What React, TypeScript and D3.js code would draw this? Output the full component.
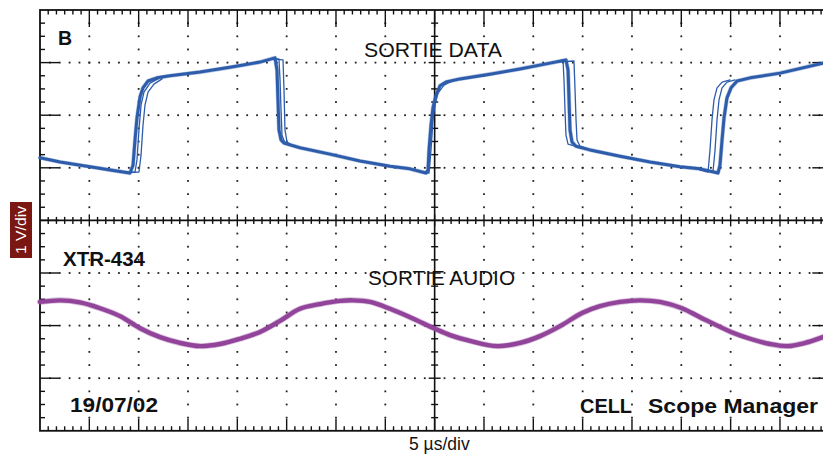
import React from 'react';
import * as d3 from 'd3';

// Time base: 5 µs/div over 16 divisions; vertical: 1 V/div over 8 divisions
const timeDomain: [number, number] = [0, 80];
const voltDomain: [number, number] = [-4, 4];
const timePerDiv = 5;
const voltPerDiv = 1;

// SORTIE DATA – main (thick) trace, [µs, V]
const dataTrace: [number, number][] = [
  [0, 1.19], [2.03, 1.11], [5.07, 1.02], [7.1, 0.96], [9.12, 0.9],
  [9.43, 1.05], [9.63, 1.53], [9.83, 1.95], [10.14, 2.35], [10.44, 2.52], [10.95, 2.65],
  [11.86, 2.71], [13.18, 2.75], [16.22, 2.82], [19.56, 2.92], [22.3, 3.01], [23.82, 3.09],
  [24.02, 2.86], [24.12, 2.29], [24.22, 1.72], [24.43, 1.53], [24.73, 1.47],
  [26.35, 1.38], [29.39, 1.26], [32.43, 1.13], [35.48, 1.03], [37.5, 0.98], [39.12, 0.9],
  [39.33, 0.96], [39.43, 1.34], [39.63, 1.81], [39.83, 2.14], [40.14, 2.38], [40.54, 2.56],
  [41.15, 2.63], [42.57, 2.69], [45.61, 2.78], [48.65, 2.88], [51.69, 2.99], [53.31, 3.05],
  [53.52, 2.86], [53.62, 2.29], [53.72, 1.72], [53.92, 1.49], [54.33, 1.41],
  [55.75, 1.34], [58.79, 1.22], [61.83, 1.11], [64.87, 1.02], [66.9, 0.98], [68.72, 0.9],
  [68.92, 1.05], [69.13, 1.53], [69.33, 1.95], [69.63, 2.33], [70.04, 2.52], [70.65, 2.65],
  [71.97, 2.71], [75.01, 2.8], [79.36, 2.99], [80, 3.0],
];

// Jittered (persistence) traces around the edges
const ghostRise1A: [number, number][] = [[8.92, 0.91], [9.63, 0.92], [9.83, 1.15], [10.03, 1.72], [10.24, 2.19], [10.54, 2.44], [11.15, 2.61], [11.96, 2.69]];
const ghostRise1B: [number, number][] = [[8.92, 0.91], [10.03, 0.92], [10.24, 1.24], [10.44, 1.81], [10.64, 2.19], [10.95, 2.44], [11.55, 2.59], [12.37, 2.69]];
const ghostFall1A: [number, number][] = [[23.31, 3.07], [24.22, 3.07], [24.33, 2.67], [24.43, 2.1], [24.53, 1.62], [24.83, 1.47], [25.54, 1.43]];
const ghostFall1B: [number, number][] = [[23.31, 3.07], [24.63, 3.05], [24.73, 2.48], [24.83, 1.72], [25.04, 1.49], [25.54, 1.43]];
const ghostRise2: [number, number][] = [[38.52, 0.92], [39.43, 0.9], [39.63, 1.34], [39.83, 1.91], [40.04, 2.21], [40.34, 2.42], [40.95, 2.57], [41.76, 2.65]];
const ghostFall2A: [number, number][] = [[52.2, 3.01], [53.01, 3.05], [53.11, 2.67], [53.21, 2.1], [53.31, 1.62], [53.52, 1.45], [54.23, 1.41]];
const ghostFall2B: [number, number][] = [[52.2, 3.01], [54.12, 3.03], [54.23, 2.48], [54.33, 1.91], [54.43, 1.53], [54.73, 1.41], [55.54, 1.36]];
const ghostRise3A: [number, number][] = [[66.9, 0.96], [67.71, 0.92], [67.91, 1.34], [68.11, 1.91], [68.31, 2.29], [68.62, 2.52], [69.13, 2.63], [69.94, 2.67]];
const ghostRise3B: [number, number][] = [[66.9, 0.96], [68.21, 0.92], [68.42, 1.34], [68.62, 1.91], [68.82, 2.29], [69.13, 2.52], [69.63, 2.63], [70.44, 2.67]];
const dataGhosts = [ghostRise1A, ghostRise1B, ghostFall1A, ghostFall1B, ghostRise2, ghostFall2A, ghostFall2B, ghostRise3A, ghostRise3B];

// SORTIE AUDIO trace, [µs, V]
const audioTrace: [number, number][] = [
  [0, -1.55], [2.03, -1.52], [4.05, -1.56], [6.08, -1.67], [8.11, -1.82], [10.14, -2.05],
  [12.16, -2.22], [14.19, -2.33], [16.22, -2.39], [18.24, -2.35], [20.27, -2.25], [22.3, -2.12],
  [24.33, -1.91], [26.35, -1.68], [28.38, -1.59], [30.41, -1.53], [31.72, -1.52], [33.45, -1.55],
  [35.48, -1.68], [37.5, -1.84], [39.93, -2.05], [41.56, -2.18], [43.58, -2.29], [46.32, -2.39],
  [48.65, -2.33], [50.68, -2.2], [52.71, -2.01], [54.94, -1.76], [56.76, -1.63], [58.79, -1.55],
  [60.82, -1.52], [62.84, -1.55], [65.07, -1.67], [66.9, -1.84], [70.04, -2.12], [71.97, -2.25],
  [73.99, -2.35], [75.72, -2.39], [77.54, -2.33], [79.36, -2.22], [80, -2.18],
];

const channelLabel = 'B';
const dataTitle = 'SORTIE DATA';
const audioTitle = 'SORTIE AUDIO';
const probeLabel = 'XTR-434';
const dateLabel = '19/07/02';
const brandWord1 = 'CELL';
const brandWord2 = 'Scope Manager';
const xUnitLabel = '5 µs/div';
const yUnitLabel = '1 V/div';

const FONT = '"Liberation Sans", Arial, sans-serif';
const BLUE = '#2d5cab';
const PURPLE = '#91449a';
const INK = '#111';

export default function App() {
  const W = 823;
  const H = 454;
  const x = d3.scaleLinear().domain(timeDomain).range([40, 829.3]);
  const y = d3.scaleLinear().domain(voltDomain).range([430.8, 10]);
  const [x0, x1] = x.range();
  const [yb, yt] = y.range();
  const xc = x(40);
  const yc = y(0);

  const line = d3.line<[number, number]>().x(d => x(d[0])).y(d => y(d[1]));
  const smooth = d3.line<[number, number]>().x(d => x(d[0])).y(d => y(d[1])).curve(d3.curveCatmullRom.alpha(0.5));

  const eps = 1e-6;
  const xMinor = d3.range(timeDomain[0], timeDomain[1] + eps, timePerDiv / 6);
  const yMinor = d3.range(voltDomain[0], voltDomain[1] + eps, voltPerDiv / 4);
  const isMajorX = (t: number) => Math.abs(t / timePerDiv - Math.round(t / timePerDiv)) < 1e-6;
  const isMajorY = (v: number) => Math.abs(v / voltPerDiv - Math.round(v / voltPerDiv)) < 1e-6;

  const gridX = d3.range(1, 16).map(i => i * timePerDiv).filter(t => t !== 40);
  const gridY = d3.range(-3, 4).map(i => i * voltPerDiv).filter(v => v !== 0);
  const dotXs = d3.range(1, 80, timePerDiv / 5);
  const dotYs = d3.range(-3.75, 4, voltPerDiv / 4);

  const ticks: JSX.Element[] = [];
  let k = 0;
  xMinor.forEach(t => {
    const px = x(t);
    const maj = isMajorX(t);
    if (t > 0 && t < 80) {
      ticks.push(<line key={k++} x1={px} x2={px} y1={yt} y2={yt + (maj ? 17 : 4.5)} />);
      ticks.push(<line key={k++} x1={px} x2={px} y1={yb} y2={yb - (maj ? 12 : 4.5)} />);
      ticks.push(<line key={k++} x1={px} x2={px} y1={yc - (maj ? 6 : 3.5)} y2={yc + (maj ? 6 : 3.5)} />);
    }
  });
  yMinor.forEach(v => {
    const py = y(v);
    const maj = isMajorY(v);
    if (v > -4 && v < 4) {
      ticks.push(<line key={k++} x1={x0} x2={x0 + (maj ? 19 : 5)} y1={py} y2={py} />);
      ticks.push(<line key={k++} x1={x1} x2={x1 - (maj ? 17 : 5)} y1={py} y2={py} />);
      ticks.push(<line key={k++} x1={xc - (maj ? 6 : 3.5)} x2={xc + (maj ? 6 : 3.5)} y1={py} y2={py} />);
    }
  });

  const dots: JSX.Element[] = [];
  gridY.forEach(v => {
    dotXs.forEach(t => {
      if (Math.abs(t - 40) < 1e-6) return;
      dots.push(<rect key={k++} x={x(t) - 0.9} y={y(v) - 0.9} width={1.8} height={1.8} />);
    });
  });
  gridX.forEach(t => {
    dotYs.forEach(v => {
      if (Math.abs(v) < 1e-6) return;
      dots.push(<rect key={k++} x={x(t) - 0.9} y={y(v) - 0.9} width={1.8} height={1.8} />);
    });
  });

  return (
    <svg width={W} height={H} style={{ position: 'absolute', left: 0, top: 0, background: '#fff' }}>
      <rect x={0} y={0} width={W} height={H} fill="#fff" />
      <g fill="#222">{dots}</g>
      <g stroke={INK} strokeWidth={1.4}>{ticks}</g>
      <line x1={xc} x2={xc} y1={yt} y2={yb} stroke={INK} strokeWidth={1.6} />
      <line x1={x0} x2={x1} y1={yc} y2={yc} stroke={INK} strokeWidth={1.6} />
      <rect x={x0} y={yt} width={x1 - x0} height={yb - yt} fill="none" stroke={INK} strokeWidth={1.8} />

      <g fill="none" strokeLinejoin="round" strokeLinecap="round">
        {dataGhosts.map((g, i) => (
          <path key={i} d={line(g) || ''} stroke={BLUE} strokeWidth={1.3} />
        ))}
        <path d={line(dataTrace) || ''} stroke={BLUE} strokeWidth={4.2} strokeOpacity={0.35} />
        <path d={line(dataTrace) || ''} stroke={BLUE} strokeWidth={3} />
        <path d={smooth(audioTrace) || ''} stroke={PURPLE} strokeWidth={6} strokeOpacity={0.35} />
        <path d={smooth(audioTrace) || ''} stroke={PURPLE} strokeWidth={4.4} />
      </g>

      <g fontFamily={FONT} fill={INK}>
        <text x={58} y={45} fontSize={19.5} fontWeight="bold">{channelLabel}</text>
        <text x={364} y={57} fontSize={19.5} textLength={138} lengthAdjust="spacingAndGlyphs">{dataTitle}</text>
        <text x={368} y={285} fontSize={19.5} textLength={147} lengthAdjust="spacingAndGlyphs">{audioTitle}</text>
        <text x={63} y={266} fontSize={20} fontWeight="bold" textLength={82} lengthAdjust="spacingAndGlyphs">{probeLabel}</text>
        <text x={70} y={412} fontSize={20} fontWeight="bold" textLength={88} lengthAdjust="spacingAndGlyphs">{dateLabel}</text>
        <text x={580} y={413} fontSize={20} fontWeight="bold" textLength={52} lengthAdjust="spacingAndGlyphs">{brandWord1}</text>
        <text x={648} y={413} fontSize={20} fontWeight="bold" textLength={170} lengthAdjust="spacingAndGlyphs">{brandWord2}</text>
        <text x={409} y={450} fontSize={17.5}>{xUnitLabel}</text>
      </g>
      <g transform="translate(21,230) rotate(-90)">
        <rect x={-28} y={-11} width={56} height={22} fill="#7a1712" />
        <text x={0} y={5} textAnchor="middle" fontFamily={FONT} fontSize={14} fill="#fff" textLength={48} lengthAdjust="spacingAndGlyphs">{yUnitLabel}</text>
      </g>
    </svg>
  );
}
